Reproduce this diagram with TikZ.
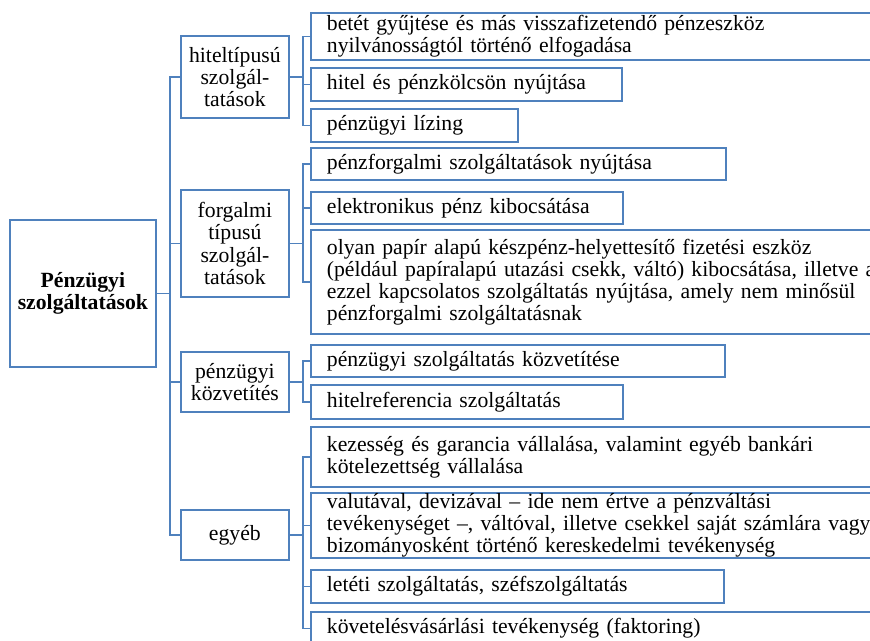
\documentclass[tikz,border=0pt]{standalone}
\usepackage{fontspec}
\setmainfont{Liberation Serif}
\definecolor{lineblue}{HTML}{4F81BD}
\begin{document}
\begin{tikzpicture}[x=1pt,y=-1pt,
  txt/.style={font=\fontsize{21.7}{22.2}\selectfont, text=black},
  box/.style={txt, draw=lineblue, line width=1.8pt, anchor=west, inner ysep=0pt},
  rootbox/.style={box, align=center, text width=138pt, inner xsep=4pt,
    font=\fontsize{21.7}{22.2}\selectfont\bfseries},
  midbox/.style={box, align=center, text width=100pt, inner xsep=4pt},
  leaf/.style={box, align=left, inner xsep=16pt},
  conn/.style={draw=lineblue, line width=1.8pt}
]
\useasboundingbox (0,0) rectangle (870,640);
\clip (0,0) rectangle (870,640);

% root
\node[rootbox, minimum height=147pt] (root) at (9,293.5) {Pénzügyi\\szolgáltatások};

% first level
\node[midbox, minimum height=82pt] (hitel) at (180,77) {hiteltípusú\\szolgál-\\tatások};
\node[midbox, minimum height=107pt] (forg) at (180,243.5) {forgalmi\\típusú\\szolgál-\\tatások};
\node[midbox, minimum height=60pt] (kozv) at (180,382) {pénzügyi\\közvetítés};
\node[midbox, minimum height=50pt] (egyeb) at (180,535) {egyéb};

% second level: credit-type services
\node[leaf, minimum height=47pt, text width=578pt] (h1) at (310,36.5)
  {betét gyűjtése és más visszafizetendő pénzeszköz\\nyilvánosságtól történő elfogadása};
\node[leaf, minimum height=33pt, text width=279pt] (h2) at (310,84.5)
  {hitel és pénzkölcsön nyújtása};
\node[leaf, minimum height=33pt, text width=175pt] (h3) at (310,125.5)
  {pénzügyi lízing};

% second level: payment-type services
\node[leaf, minimum height=32pt, text width=383pt] (f1) at (310,164)
  {pénzforgalmi szolgáltatások nyújtása};
\node[leaf, minimum height=32pt, text width=280pt] (f2) at (310,208)
  {elektronikus pénz kibocsátása};
\node[leaf, minimum height=104pt, text width=578pt] (f3) at (310,282)
  {olyan papír alapú készpénz-helyettesítő fizetési eszköz\\(például papíralapú utazási csekk, váltó) kibocsátása, illetve az\\ezzel kapcsolatos szolgáltatás nyújtása, amely nem minősül\\pénzforgalmi szolgáltatásnak};

% second level: intermediation
\node[leaf, minimum height=32pt, text width=382pt] (k1) at (310,361)
  {pénzügyi szolgáltatás közvetítése};
\node[leaf, minimum height=34pt, text width=280pt] (k2) at (310,402)
  {hitelreferencia szolgáltatás};

% second level: other
\node[leaf, minimum height=60pt, text width=578pt] (e1) at (310,457)
  {kezesség és garancia vállalása, valamint egyéb bankári\\kötelezettség vállalása};
\node[leaf, minimum height=65pt, text width=578pt] (e2) at (310,525.5)
  {valutával, devizával – ide nem értve a pénzváltási\\tevékenységet –, váltóval, illetve csekkel saját számlára vagy\\bizományosként történő kereskedelmi tevékenység};
\node[leaf, minimum height=33pt, text width=381pt] (e3) at (310,586.5)
  {letéti szolgáltatás, széfszolgáltatás};
\node[leaf, minimum height=33pt, text width=578pt] (e4) at (310,628.5)
  {követelésvásárlási tevékenység (faktoring)};

% connectors: root to first level
\foreach \m in {hitel,forg,kozv,egyeb}
  \draw[conn] (root.east) -- ++(13,0) |- (\m.west);

% connectors: first level to second level
\foreach \l in {h1,h2,h3}
  \draw[conn] (hitel.east) -- ++(13,0) |- (\l.west);
\foreach \l in {f1,f2,f3}
  \draw[conn] (forg.east) -- ++(13,0) |- (\l.west);
\foreach \l in {k1,k2}
  \draw[conn] (kozv.east) -- ++(13,0) |- (\l.west);
\foreach \l in {e1,e2,e3,e4}
  \draw[conn] (egyeb.east) -- ++(13,0) |- (\l.west);
\end{tikzpicture}
\end{document}
